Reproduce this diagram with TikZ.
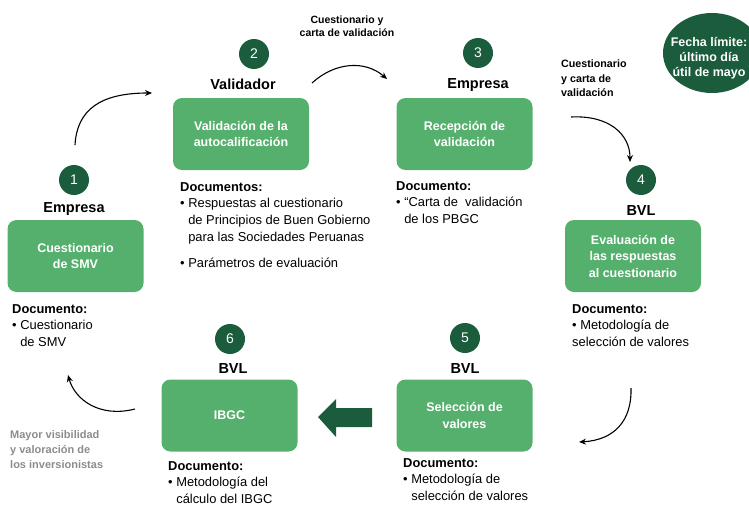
\documentclass[tikz,border=0pt]{standalone}
\usepackage{fontspec}
\setmainfont{Liberation Sans}
\usetikzlibrary{arrows.meta,shapes.geometric}
\definecolor{boxgreen}{HTML}{55B06D}
\definecolor{darkgreen}{HTML}{1A5C3B}
\definecolor{greytext}{HTML}{8C8C8C}
\begin{document}
\begin{tikzpicture}[x=1pt,y=-1pt,
  stepbox/.style={rectangle, rounded corners=9pt, fill=boxgreen, minimum width=136pt, minimum height=72pt, text=white, font=\fontsize{12.5}{16.5}\selectfont\bfseries, align=center, inner sep=0},
  num/.style={circle, fill=darkgreen, minimum size=30pt, inner sep=0, text=white, font=\fontsize{14}{14}\selectfont},
  actor/.style={font=\fontsize{14.5}{14.5}\selectfont\bfseries, anchor=base, inner sep=0},
  doc/.style={font=\fontsize{12.9}{16.7}\selectfont, align=left, anchor=north west, inner sep=0},
  lbl/.style={font=\fontsize{10.5}{13}\selectfont\bfseries, inner sep=0},
  flow/.style={line width=1.1pt, -{Stealth[length=7pt,width=6pt]}},
]
\useasboundingbox (0,0) rectangle (749,506);

% step boxes
\node[stepbox] (b1) at (75.5,256) {Cuestionario\\de SMV};
\node[stepbox] (b2) at (241,134) {Validación de la\\autocalificación};
\node[stepbox] (b3) at (464.5,134) {Recepción de\\validación};
\node[stepbox] (b4) at (633,256) {Evaluación de\\las respuestas\\al cuestionario};
\node[stepbox] (b5) at (464.5,415.5) {Selección de\\valores};
\node[stepbox] (b6) at (229.5,415.5) {IBGC};

% numbers
\node[num] (n1) at (74,180) {1};
\node[num] (n2) at (254,54) {2};
\node[num] (n3) at (478,53) {3};
\node[num] (n4) at (641,180) {4};
\node[num] (n5) at (465,338) {5};
\node[num] (n6) at (230,339) {6};

% actors
\node[actor] (a1) at (74,212) {Empresa};
\node[actor] (a2) at (243,89) {Validador};
\node[actor] (a3) at (478,88) {Empresa};
\node[actor] (a4) at (641,215) {BVL};
\node[actor] (a5) at (465,373) {BVL};
\node[actor] (a6) at (233,373) {BVL};

% documents
\node[doc] (d1) at (12,304) {\textbf{Documento:}\\\textbullet\ Cuestionario\\\hphantom{\textbullet\ }de SMV};
\node[doc] (d2) at (180,182) {\textbf{Documentos:}\\\textbullet\ Respuestas al cuestionario\\\hphantom{\textbullet\ }de Principios de Buen Gobierno\\\hphantom{\textbullet\ }para las Sociedades Peruanas\\[10pt]\textbullet\ Parámetros de evaluación};
\node[doc] (d3) at (396,181) {\textbf{Documento:}\\\textbullet\ “Carta de\ \ validación\\\hphantom{\textbullet\ }de los PBGC};
\node[doc] (d4) at (572,304) {\textbf{Documento:}\\\textbullet\ Metodología de\\selección de valores};
\node[doc] (d5) at (403,458) {\textbf{Documento:}\\\textbullet\ Metodología de\\\hphantom{\textbullet\ }selección de valores};
\node[doc] (d6) at (168,461) {\textbf{Documento:}\\\textbullet\ Metodología del\\\hphantom{\textbullet\ }cálculo del IBGC};

% labels
\node[lbl, align=center] (l1) at (347,26.5) {Cuestionario y\\carta de validación};
\node[lbl, align=left, anchor=north west, font=\fontsize{10.7}{14.5}\selectfont\bfseries] (l2) at (561,60) {Cuestionario\\y carta de\\validación};
\node[lbl, align=left, anchor=north west, text=greytext, font=\fontsize{11}{15}\selectfont\bfseries] (l3) at (10,430) {Mayor visibilidad\\y valoración de\\los inversionistas};

% deadline
\node[ellipse, fill=darkgreen, minimum width=98pt, minimum height=80pt, inner sep=0] (fecha) at (712,53) {};
\node[font=\fontsize{12.5}{15}\selectfont\bfseries, text=white, align=center, inner sep=0] (fechatxt) at (709,58) {Fecha límite:\\último día\\útil de mayo};

% flow arrows
\coordinate (p1s) at (75,145);  \coordinate (p1e) at (152,93);
\coordinate (p2s) at (312,83);  \coordinate (p2e) at (387,79);
\coordinate (p3s) at (571,117); \coordinate (p3e) at (630,162);
\coordinate (p4s) at (631,388); \coordinate (p4e) at (579,442);
\coordinate (p6s) at (135,409); \coordinate (p6e) at (68,375);
\draw[flow] (p1s) .. controls (77,110) and (100,93) .. (p1e);
\draw[flow] (p2s) .. controls (335,62) and (365,60) .. (p2e);
\draw[flow] (p3s) .. controls (610,115) and (630,135) .. (p3e);
\draw[flow] (p4s) .. controls (632,420) and (615,440) .. (p4e);
\draw[flow] (p6s) .. controls (100,418) and (75,400) .. (p6e);

% block arrow 5 -> 6
\fill[darkgreen] (318,417) -- (336,399) -- (336,408) -- (372,408) -- (372,427) -- (336,427) -- (336,437) -- cycle;
\end{tikzpicture}
\end{document}
